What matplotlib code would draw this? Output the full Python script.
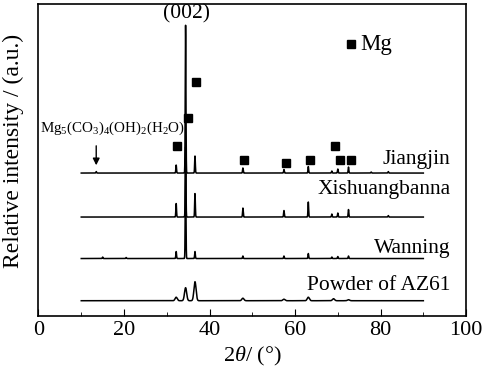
import numpy as np
import matplotlib.pyplot as plt

plt.rcParams['font.family'] = ['Liberation Serif', 'DejaVu Serif']
plt.rcParams['mathtext.fontset'] = 'custom'
plt.rcParams['mathtext.rm'] = 'Liberation Serif'
plt.rcParams['mathtext.it'] = 'Liberation Serif:italic'

# sample names and vertical offsets of each pattern
samples = ["Jiangjin", "Xishuangbanna", "Wanning", "Powder of AZ61"]
offsets = [143, 99, 57.5, 15.3]

# peak lists (2theta, height)
jiangjin_pos = [13.5, 32.2, 34.4, 36.6, 47.8, 57.4, 63.1, 68.6, 70.0, 72.5, 77.8, 81.8]
jiangjin_h = [1.5, 8, 148, 17, 5, 3.5, 6.5, 2, 4, 6, 1, 1.5]
xish_pos = [32.2, 34.4, 36.6, 47.8, 57.4, 63.1, 68.6, 70.0, 72.5, 81.8]
xish_h = [13.5, 70, 23.5, 9, 6.5, 15, 3, 4, 7.5, 1.5]
wanning_pos = [15.0, 20.5, 32.2, 34.4, 36.6, 47.8, 57.4, 63.1, 68.6, 70.0, 72.5]
wanning_h = [1.5, 1, 7, 100, 7, 2.5, 2.5, 5, 1.5, 2, 2.5]
powder_pos = [32.2, 34.4, 36.6, 47.8, 57.4, 63.1, 69.0, 72.5]
powder_h = [3.5, 13, 19, 2.5, 1.5, 3.5, 2, 1]

peak_lists = [(jiangjin_pos, jiangjin_h, 0.08), (xish_pos, xish_h, 0.08),
              (wanning_pos, wanning_h, 0.08), (powder_pos, powder_h, 0.25)]

# Mg markers above the Jiangjin pattern
mg_x = [32.3, 35.0, 36.8, 48.1, 57.8, 63.5, 69.3, 70.5, 73.0]
mg_y = [170, 198, 234, 156, 153, 156, 170, 156, 156]

fig = plt.figure(figsize=(4.83, 3.72), dpi=100)
ax = fig.add_axes([0.0797, 0.1505, 0.8853, 0.8385])

x = np.linspace(10, 90, 6000)
for (pos, h, w), off in zip(peak_lists, offsets):
    y = np.full_like(x, off)
    for p, hh in zip(pos, h):
        y += hh * np.exp(-0.5 * ((x - p) / w) ** 2)
    ax.plot(x, y, color='black', lw=1.1)

ax.plot(mg_x, mg_y, 's', color='black', ms=5.5, ls='none')
ax.plot([73.2], [272], 's', color='black', ms=5.5)
ax.text(75.3, 272, "Mg", fontsize=16.5, va='center', ha='left')

label_y = [157, 127, 68, 31]
for name, ly in zip(samples, label_y):
    ax.text(96.3, ly, name, fontsize=15.5, ha='right', va='center')

ax.text(34.6, 302, "(002)", fontsize=15.5, ha='center', va='center')
ax.text(0.4, 188, r"Mg$_5$(CO$_3$)$_4$(OH)$_2$(H$_2$O)", fontsize=10.8,
        ha='left', va='center')
ax.annotate("", xy=(13.5, 148), xytext=(13.5, 173),
            arrowprops=dict(arrowstyle='-|>', color='black', lw=1.0,
                            mutation_scale=10))

ax.set_xlim(0, 100)
ax.set_ylim(0, 312)
ax.set_xticks([0, 20, 40, 60, 80, 100])
ax.set_xticks([10, 30, 50, 70, 90], minor=True)
ax.set_yticks([])
ax.tick_params(axis='x', which='major', direction='in', length=5, labelsize=16)
ax.tick_params(axis='x', which='minor', direction='in', length=3)
for s in ax.spines.values():
    s.set_linewidth(1.2)

ax.set_xlabel(r"2$\mathit{\theta}$/ (°)", fontsize=16, labelpad=4)
ax.set_ylabel("Relative intensity / (a.u.)", fontsize=17, labelpad=4)
ax.yaxis.set_label_coords(-0.033, 0.53)

fig.savefig("out.png", dpi=100)
